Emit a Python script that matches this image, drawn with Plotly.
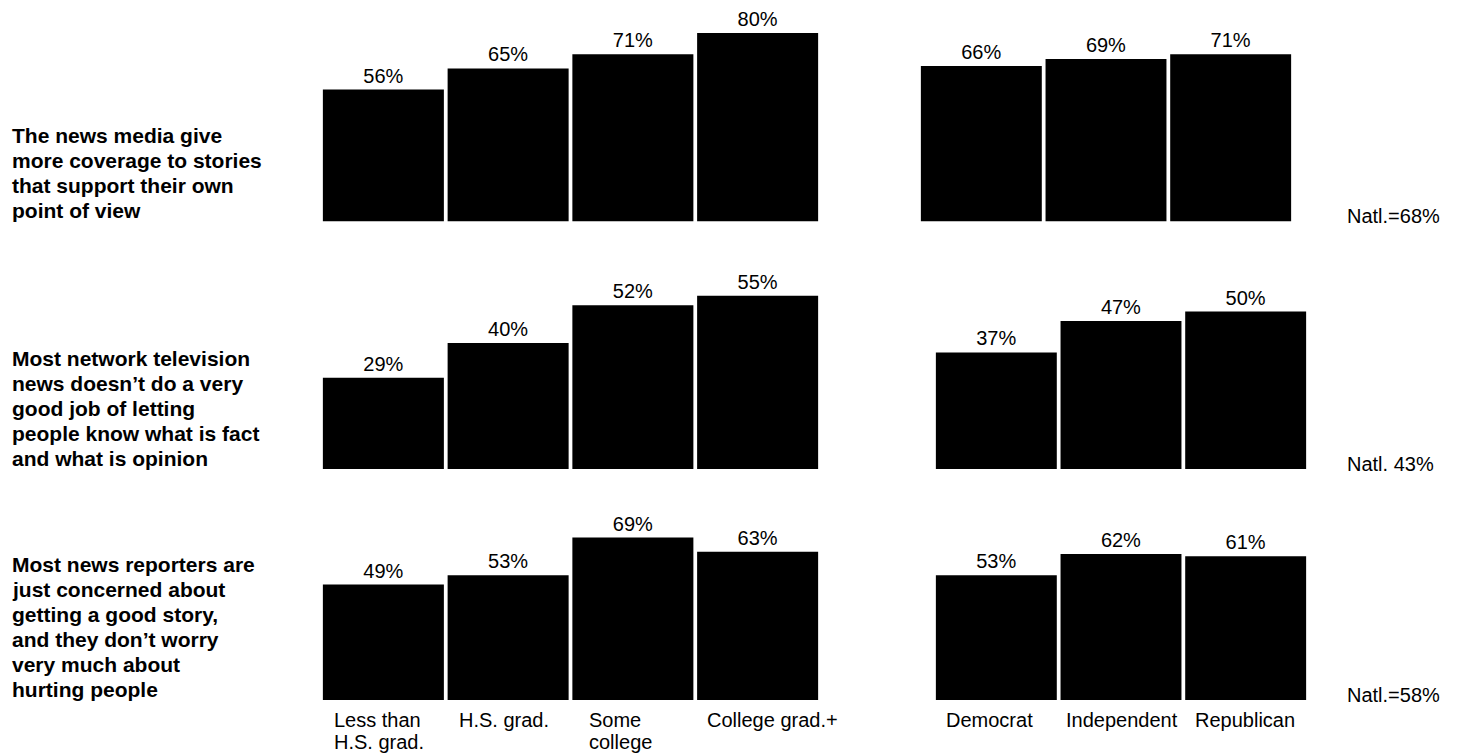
import plotly.graph_objects as go

# ---------------- data ----------------
edu_categories = ["Less than H.S. grad.", "H.S. grad.", "Some college", "College grad.+"]
edu_label_lines = [["Less than", "H.S. grad."], ["H.S. grad."], ["Some", "college"], ["College grad.+"]]
party_categories = ["Democrat", "Independent", "Republican"]
party_label_lines = [["Democrat"], ["Independent"], ["Republican"]]

question_lines = [
    ["The news media give", "more coverage to stories", "that support their own", "point of view"],
    ["Most network television", "news doesn\u2019t do a very", "good job of letting",
     "people know what is fact", "and what is opinion"],
    ["Most news reporters are", "just concerned about", "getting a good story,",
     "and they don\u2019t worry", "very much about", "hurting people"],
]
edu_values = [
    [56, 65, 71, 80],
    [29, 40, 52, 55],
    [49, 53, 69, 63],
]
party_values = [
    [66, 69, 71],
    [37, 47, 50],
    [53, 62, 61],
]
natl_labels = ["Natl.=68%", "Natl. 43%", "Natl.=58%"]

# ---------------- layout geometry (pixels) ----------------
W, H = 1457, 753
row_baseline = [221.5, 469.0, 700.0]
row_px_per_unit = [2.355, 3.15, 2.355]
row_ymax = [88, 62, 72]
left_dom = [(321, 820), (321, 820), (321, 820)]
right_dom = [(919, 1293), (934, 1308), (934, 1308)]
BARGAP = 0.03

FONT = "Liberation Sans, Arial, Helvetica, sans-serif"
NORMAL_SIZE = 20
BOLD_SIZE = 21
LINE_PITCH_BOLD = 25
LINE_PITCH_CAT = 22

def px_x(p):
    return p / W

def px_y(p):
    return 1 - p / H

fig = go.Figure()
layout_axes = {}
annotations = []

ax_i = 0
for r in range(3):
    base = row_baseline[r]
    top = base - row_ymax[r] * row_px_per_unit[r]
    ydom = [px_y(base), px_y(top)]
    for g, (cats, vals, dom) in enumerate([
        (edu_categories, edu_values[r], left_dom[r]),
        (party_categories, party_values[r], right_dom[r]),
    ]):
        ax_i += 1
        xa = "xaxis" if ax_i == 1 else f"xaxis{ax_i}"
        ya = "yaxis" if ax_i == 1 else f"yaxis{ax_i}"
        xr = "x" if ax_i == 1 else f"x{ax_i}"
        yr = "y" if ax_i == 1 else f"y{ax_i}"
        fig.add_trace(go.Bar(
            x=cats, y=vals, xaxis=xr, yaxis=yr,
            marker=dict(color="black", line=dict(width=0)),
            text=[f"{v}%" for v in vals], textposition="outside",
            textfont=dict(family=FONT, size=NORMAL_SIZE, color="black"),
            cliponaxis=False, showlegend=False, hoverinfo="skip",
        ))
        layout_axes[xa] = dict(domain=[px_x(dom[0]), px_x(dom[1])], anchor=yr,
                               showticklabels=False, showgrid=False, zeroline=False,
                               showline=False, ticks="", range=[-0.5, len(cats) - 0.5],
                               type="category", fixedrange=True)
        layout_axes[ya] = dict(domain=ydom, anchor=xr, range=[0, row_ymax[r]],
                               showticklabels=False, showgrid=False, zeroline=False,
                               showline=False, ticks="", fixedrange=True)

    # question label (bold, left)
    lines = question_lines[r]
    last_center = base - 11
    for k, line in enumerate(lines):
        cy = last_center - (len(lines) - 1 - k) * LINE_PITCH_BOLD
        annotations.append(dict(
            text=f"<b>{line}</b>", x=px_x(10), y=px_y(cy), xref="paper", yref="paper",
            xanchor="left", yanchor="middle", showarrow=False,
            font=dict(family=FONT, size=BOLD_SIZE, color="black")))

    # national figure
    annotations.append(dict(
        text=natl_labels[r], x=px_x(1345), y=px_y(base - 5), xref="paper", yref="paper",
        xanchor="left", yanchor="middle", showarrow=False,
        font=dict(family=FONT, size=NORMAL_SIZE, color="black")))

# category labels under bottom row
edu_offsets = [9, 9, 15, 8]
party_offsets = [8, 3, 8]
cat_first_center = 720
for dom, label_lines, offs in [
    (left_dom[2], edu_label_lines, edu_offsets),
    (right_dom[2], party_label_lines, party_offsets),
]:
    n = len(label_lines)
    slot = (dom[1] - dom[0]) / n
    for i, lines in enumerate(label_lines):
        bar_left = dom[0] + slot * i + slot * BARGAP / 2
        for k, line in enumerate(lines):
            annotations.append(dict(
                text=line, x=px_x(bar_left + offs[i]), y=px_y(cat_first_center + k * LINE_PITCH_CAT),
                xref="paper", yref="paper", xanchor="left", yanchor="middle", showarrow=False,
                font=dict(family=FONT, size=NORMAL_SIZE, color="black")))

fig.update_layout(
    width=W, height=H, margin=dict(l=0, r=0, t=0, b=0),
    paper_bgcolor="white", plot_bgcolor="white",
    bargap=BARGAP, showlegend=False, annotations=annotations,
    font=dict(family=FONT, color="black"),
    **layout_axes,
)

fig.write_html("out.html", config={"displayModeBar": False})
